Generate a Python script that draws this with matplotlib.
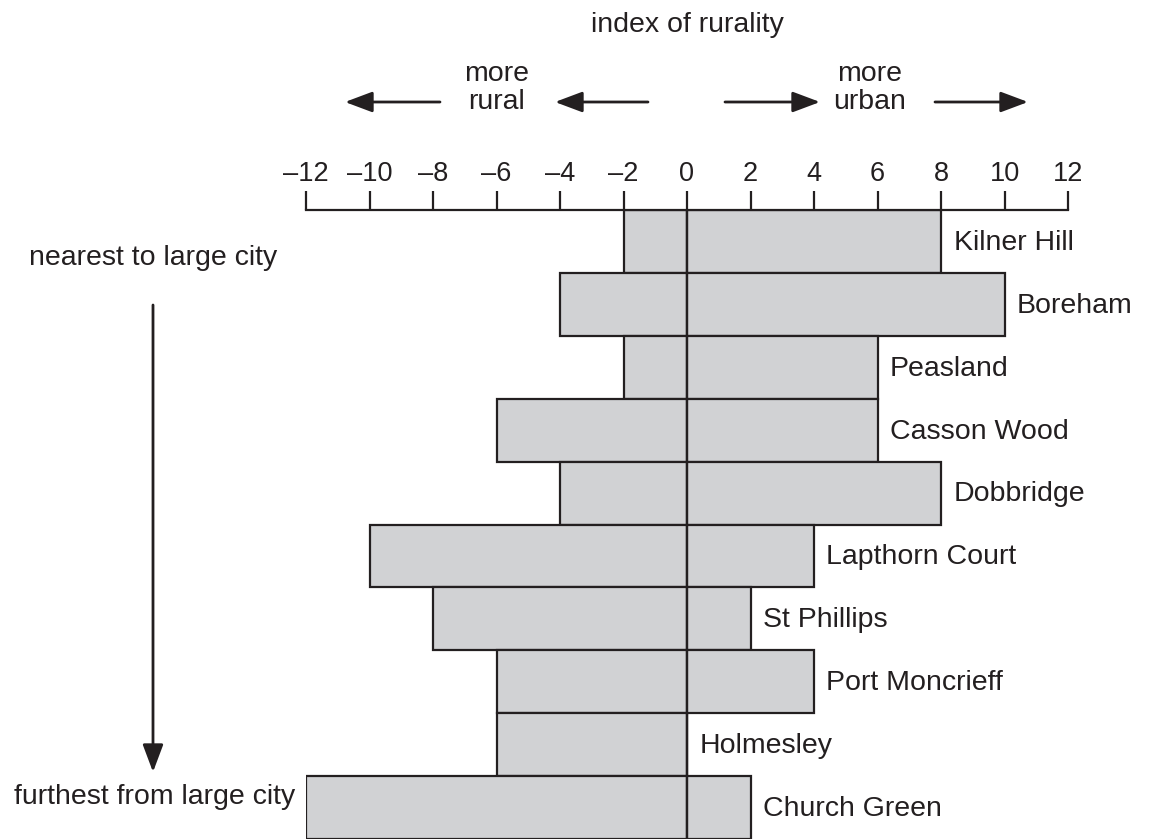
import matplotlib
matplotlib.use('Agg')
from matplotlib import pyplot as plt

plt.rcParams['font.family'] = ['Liberation Sans', 'DejaVu Sans']

# settlements, nearest to furthest from the large city
places = ['Kilner Hill', 'Boreham', 'Peasland', 'Casson Wood', 'Dobbridge',
          'Lapthorn Court', 'St Phillips', 'Port Moncrieff', 'Holmesley', 'Church Green']
rural = [-2, -4, -2, -6, -4, -10, -8, -6, -6, -12]   # left part of each bar
urban = [8, 10, 6, 6, 8, 4, 2, 4, 0, 2]              # right part of each bar
ticks = list(range(-12, 13, 2))
tick_labels = [str(t).replace('-', '\u2013') for t in ticks]

INK = '#231f20'
FILL = '#d1d2d4'
FS = 20.5

fig = plt.figure(figsize=(11.49, 8.39), dpi=100)
ax = fig.add_axes([306 / 1149, 0, 762 / 1149, 1 - 210 / 839])

rows = list(range(len(places)))
ax.barh(rows, rural, height=1, align='edge', color=FILL, edgecolor=INK, linewidth=1.6)
ax.barh(rows, urban, height=1, align='edge', color=FILL, edgecolor=INK, linewidth=1.6)
ax.axvline(0, color=INK, linewidth=1.6)

for i, (name, u) in enumerate(zip(places, urban)):
    ax.annotate(name, (u, i + 0.5), xytext=(9, -1), textcoords='offset points',
                va='center', ha='left', fontsize=FS, color=INK, annotation_clip=False)

ax.set_xlim(-12, 12)
ax.set_ylim(len(places), 0)
ax.xaxis.tick_top()
ax.set_xticks(ticks)
ax.set_xticklabels(tick_labels, fontsize=19.5, color=INK)
ax.tick_params(axis='x', length=13.5, width=1.6, color=INK, pad=3)
ax.set_yticks([])
for s in ['bottom', 'left', 'right']:
    ax.spines[s].set_visible(False)
ax.spines['top'].set_linewidth(1.6)
ax.spines['top'].set_color(INK)


def fx(px):
    return px / 1149


def fy(py):
    return 1 - py / 839


arrow_style = dict(arrowstyle='-|>,head_length=1.2,head_width=0.45', color=INK, lw=2.0)

# heading and direction arrows
fig.text(fx(687), fy(25), 'index of rurality', ha='center', va='center', fontsize=FS, color=INK)
fig.text(fx(497), fy(88), 'more\nrural', ha='center', va='center', fontsize=FS, color=INK,
         linespacing=1.13)
fig.text(fx(870), fy(88), 'more\nurban', ha='center', va='center', fontsize=FS, color=INK,
         linespacing=1.13)
for x0, x1 in [(440, 345), (648, 555), (725, 820), (935, 1028)]:
    fig.add_artist(matplotlib.patches.FancyArrowPatch(
        (fx(x0), fy(102)), (fx(x1), fy(102)), transform=fig.transFigure,
        shrinkA=0, shrinkB=0, mutation_scale=14, **arrow_style))

# distance annotation on the left
fig.text(fx(153), fy(258), 'nearest to large city', ha='center', va='center', fontsize=FS, color=INK)
fig.text(fx(155), fy(797), 'furthest from large city', ha='center', va='center', fontsize=FS, color=INK)
fig.add_artist(matplotlib.patches.FancyArrowPatch(
    (fx(153), fy(305)), (fx(153), fy(772)), transform=fig.transFigure,
    shrinkA=0, shrinkB=0, mutation_scale=14, **arrow_style))

plt.savefig('out.png', dpi=100)
plt.close(fig)
